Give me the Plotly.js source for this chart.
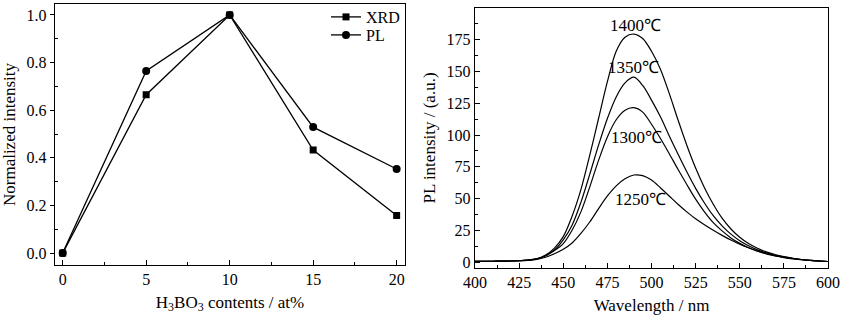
<!DOCTYPE html>
<html>
<head>
<meta charset="utf-8">
<script src="https://cdn.plot.ly/plotly-3.0.1.min.js"></script>
<style>html,body{margin:0;padding:0;background:#fff}#chart{width:850px;height:323px}</style>
</head>
<body>
<div id="chart"></div>
<script>
// ---- Left panel data ----
const boricContent = [0, 5, 10, 15, 20];
const xrdNorm = [0, 0.665, 1.0, 0.433, 0.158];
const plNorm = [0, 0.765, 1.0, 0.529, 0.353];

// ---- Right panel data ----
const wavelength = [400,405,410,415,420,425,430,435,440,445,450,455,460,465,470,475,480,485,490,495,500,505,510,515,520,525,530,535,540,545,550,555,560,565,570,575,580,585,590,595,600];
const pl1400 = [0.5,0.5,0.6,0.7,0.8,1.0,1.5,2.5,5.5,11,20,36,57,84,113,142,166,177,179.5,176,166,152,133,112,92,74,58.5,45.5,34.5,26,19.5,14.5,10.8,8.0,5.9,4.3,3.0,2.0,1.3,0.8,0.4];
const pl1350 = [0.5,0.5,0.6,0.7,0.8,1.0,1.5,2.5,5,9.5,17.5,29,47,69,92,113,130,141,145.5,139,127.5,114.5,99.5,85,71,58,46.5,36.5,28.5,22,16.8,12.8,9.6,7.2,5.3,3.9,2.8,1.9,1.3,0.8,0.4];
const pl1300 = [0.5,0.5,0.6,0.7,0.8,1.0,1.5,2.5,5,9,14.5,25,39.5,59,80,98.5,112,119.5,121.5,118,108.5,97.5,85.5,73,61,49.5,39.5,31,24.5,19,14.7,11.2,8.5,6.4,4.8,3.5,2.5,1.8,1.2,0.8,0.4];
const pl1250 = [0.5,0.5,0.6,0.7,0.8,1.0,1.3,2,3.8,6.5,10,15,22.5,31.5,42,52,60,65.5,68.5,68,64.5,58.5,52,45.5,39.5,34,29.3,25,21,17.3,14,11.2,8.7,6.7,5.1,3.8,2.8,2,1.3,0.8,0.4];
const tempLabels = ['1400℃','1350℃','1300℃','1250℃'];
const labelX = [490.7, 489.6, 491.3, 493.6];
const labelY = [186, 152.9, 97.7, 49.6];

const FONT = 'Liberation Serif';
const W = 850, H = 323;
const px = v => v / W, py = v => 1 - v / H;

const traces = [
  {x: boricContent, y: xrdNorm, name: 'XRD', type: 'scatter', mode: 'lines+markers',
   line: {color: '#000', width: 1.3}, marker: {symbol: 'square', size: 7, color: '#000'},
   xaxis: 'x', yaxis: 'y', legend: 'legend'},
  {x: boricContent, y: plNorm, name: 'PL', type: 'scatter', mode: 'lines+markers',
   line: {color: '#000', width: 1.3}, marker: {symbol: 'circle', size: 8, color: '#000'},
   xaxis: 'x', yaxis: 'y', legend: 'legend2'}
];
[pl1400, pl1350, pl1300, pl1250].forEach((s, i) => {
  traces.push({x: wavelength, y: s, name: tempLabels[i], type: 'scatter', mode: 'lines',
    line: {color: '#000', width: 1.2, shape: 'spline', smoothing: 0.9},
    xaxis: 'x2', yaxis: 'y2', showlegend: false});
});

const axBase = {showline: true, linecolor: '#000', linewidth: 1.2, mirror: true,
  showgrid: false, zeroline: false, tickcolor: '#000', tickwidth: 1,
  tickfont: {family: FONT, size: 16, color: '#000'}};
const titleFont = {family: FONT, size: 17, color: '#000'};

const layout = {
  width: W, height: H, margin: {l: 0, r: 0, t: 0, b: 0},
  paper_bgcolor: '#fff', plot_bgcolor: '#fff',
  font: {family: FONT, size: 16, color: '#000'},
  xaxis: Object.assign({}, axBase, {domain: [px(55), px(405)], range: [-0.46, 20.5],
    tickvals: [0,5,10,15,20], ticks: 'inside', ticklen: 5,
    minor: {tickvals: [2.5,7.5,12.5,17.5], ticks: 'inside', ticklen: 3, tickcolor: '#000'},
    title: {text: 'H<sub>3</sub>BO<sub>3</sub> contents / at%', font: titleFont, standoff: 8},
    anchor: 'y'}),
  yaxis: Object.assign({}, axBase, {domain: [1 - 265/H, 1 - 4/H], range: [-0.05, 1.046],
    tickvals: [0,0.2,0.4,0.6,0.8,1.0], ticktext: ['0.0','0.2','0.4','0.6','0.8','1.0'],
    ticks: 'outside', ticklen: 4,
    minor: {tickvals: [0.1,0.3,0.5,0.7,0.9], ticks: 'inside', ticklen: 3, tickcolor: '#000'},
    title: {text: 'Normalized intensity', font: titleFont, standoff: 6},
    anchor: 'x'}),
  xaxis2: Object.assign({}, axBase, {domain: [px(475), px(828)], range: [400, 600],
    tickvals: [400,425,450,475,500,525,550,575,600], ticks: 'inside', ticklen: 5,
    minor: {dtick: 12.5, tick0: 412.5, ticks: 'inside', ticklen: 3, tickcolor: '#000'},
    title: {text: 'Wavelength / nm', font: titleFont, standoff: 8},
    anchor: 'y2'}),
  yaxis2: Object.assign({}, axBase, {domain: [1 - 268/H, 1 - 8/H], range: [-4.7, 200],
    tickvals: [0,25,50,75,100,125,150,175,200], ticks: 'inside', ticklen: 5,
    minor: {dtick: 12.5, tick0: 12.5, ticks: 'inside', ticklen: 3, tickcolor: '#000'},
    title: {text: 'PL intensity / (a.u.)', font: titleFont, standoff: 6},
    anchor: 'x2'}),
  legend: {x: px(326), y: py(16.7), xanchor: 'left', yanchor: 'middle', bgcolor: 'rgba(0,0,0,0)',
    borderwidth: 0, font: {family: FONT, size: 16}, itemwidth: 30},
  legend2: {x: px(326), y: py(35), xanchor: 'left', yanchor: 'middle', bgcolor: 'rgba(0,0,0,0)',
    borderwidth: 0, font: {family: FONT, size: 16}, itemwidth: 30},
  annotations: tempLabels.map((t, i) => ({x: labelX[i], y: labelY[i], xref: 'x2', yref: 'y2',
    text: t, showarrow: false, font: {family: FONT, size: 17, color: '#000'},
    bgcolor: 'rgba(0,0,0,0)'})),
  showlegend: true
};

Plotly.newPlot('chart', traces, layout, {displayModeBar: false, staticPlot: true});
</script>
</body>
</html>
